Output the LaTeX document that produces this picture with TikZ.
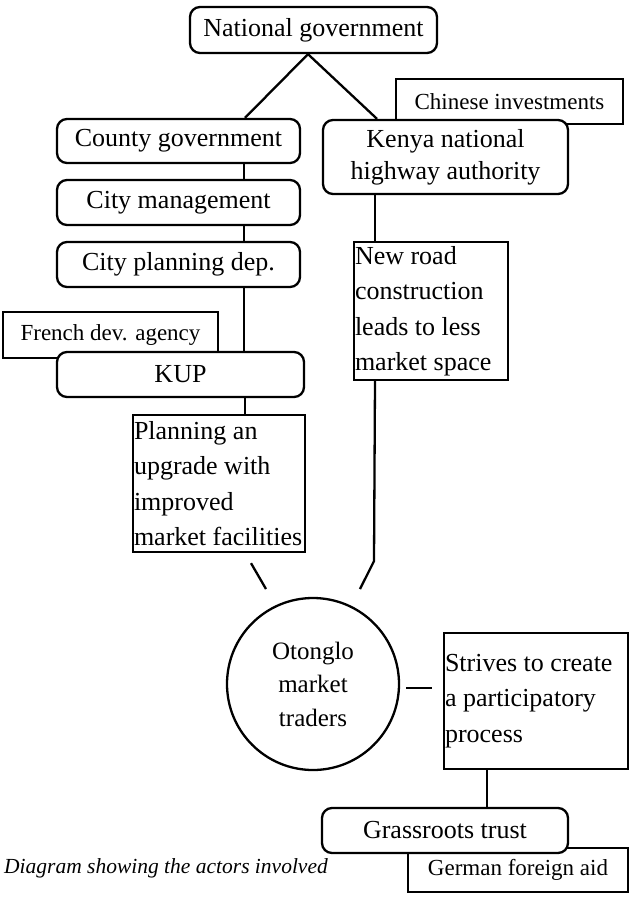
\documentclass[tikz,border=0pt]{standalone}
\usepackage{fontspec}
\setmainfont{Liberation Serif}
\usetikzlibrary{calc}
\newcommand{\myline}[1]{\mbox{#1}}
\begin{document}
\begin{tikzpicture}[x=1pt,y=-1pt, line width=2.3pt,
  rbox/.style={draw, rounded corners=10pt, fill=white, inner sep=0pt, align=center, font=\fontsize{26}{32}\selectfont},
  sbox/.style={draw, fill=white, inner sep=0pt, font=\fontsize{23}{28}\selectfont},
  tbox/.style={draw, fill=white, inner xsep=1pt, inner ysep=0pt, align=flush left, font=\fontsize{26}{35.5}\selectfont},
  ovalbox/.style={circle, draw, fill=white, inner sep=0pt, align=center, font=\fontsize{25}{33.5}\selectfont}]
\useasboundingbox (0,0) rectangle (629,897);
% top
\node[rbox, minimum width=247pt, minimum height=46pt] (nat) at (313.5,30) {National government};
% right branch
\node[sbox, minimum width=227pt, minimum height=45pt] (chin) at (509.5,101.5) {Chinese investments};
\node[rbox, minimum width=245pt, minimum height=74pt] (kenya) at (445.5,157) {Kenya national\\highway authority};
\node[tbox, text width=152pt, minimum height=138pt] (road) at (431,311) {\myline{New road}\\\myline{construction}\\\myline{leads to less}\\\myline{market space}};
% left branch
\node[rbox, minimum width=243pt, minimum height=44pt] (county) at (178.5,141) {County government};
\node[rbox, minimum width=243pt, minimum height=45pt] (citym) at (178.5,202.5) {City management};
\node[rbox, minimum width=243pt, minimum height=45pt] (cityp) at (178.5,264.5) {City planning dep.};
\node[sbox, minimum width=215pt, minimum height=46pt] (french) at (110.5,335) {French dev. agency};
\node[rbox, minimum width=247pt, minimum height=45pt] (kup) at (180.5,374.5) {KUP};
\node[tbox, text width=170pt, minimum height=137pt] (plan) at (219,483.5) {\myline{Planning an}\\\myline{upgrade with}\\\myline{improved}\\\myline{market facilities}};
% centre
\node[ovalbox, minimum size=172pt] (circ) at (313,684) {Otonglo\\market\\traders};
\node[tbox, text width=182pt, minimum height=136pt] (strives) at (536,701) {\myline{Strives to create}\\\myline{a participatory}\\\myline{process}};
\node[sbox, minimum width=220pt, minimum height=44pt] (german) at (518,870) {German foreign aid};
\node[rbox, minimum width=246pt, minimum height=45pt] (grass) at (445,830.5) {Grassroots trust};
% caption
\node[anchor=base west, inner sep=0pt, font=\fontsize{21.5}{26}\selectfont\itshape] (cap) at (3,873) {Diagram showing the actors involved};
% connectors
\coordinate (natb) at ($(nat.south)+(-5.5,0)$);
\draw (natb) -- ($(county.north)+(66.5,0)$);
\draw (natb) -- ($(kenya.north)+(-68.5,0)$);
\draw ($(county.south)+(65.5,0)$) -- ($(citym.north)+(65.5,0)$);
\draw ($(citym.south)+(65.5,0)$) -- ($(cityp.north)+(65.5,0)$);
\draw ($(cityp.south)+(65.5,0)$) -- ($(kup.north)+(63.5,0)$);
\draw ($(kup.south)+(64.5,0)$) -- ($(plan.north)+(26,0)$);
\draw ($(kenya.south)+(-70.5,0)$) -- ($(road.north)+(-56,0)$);
\draw ($(plan.south)+(32,10)$) -- ($(circ.center)+(-47,-95)$);
\draw ($(road.south)+(-56,0)$) -- ($(road.south)+(-57,180)$) -- ($(circ.center)+(47,-95)$);
\draw ($(circ.east)+(6,4)$) -- ($(strives.west)+(-11,-13)$);
\draw ($(strives.south)+(-49,0)$) -- ($(grass.north)+(42,0)$);
\end{tikzpicture}
\end{document}
